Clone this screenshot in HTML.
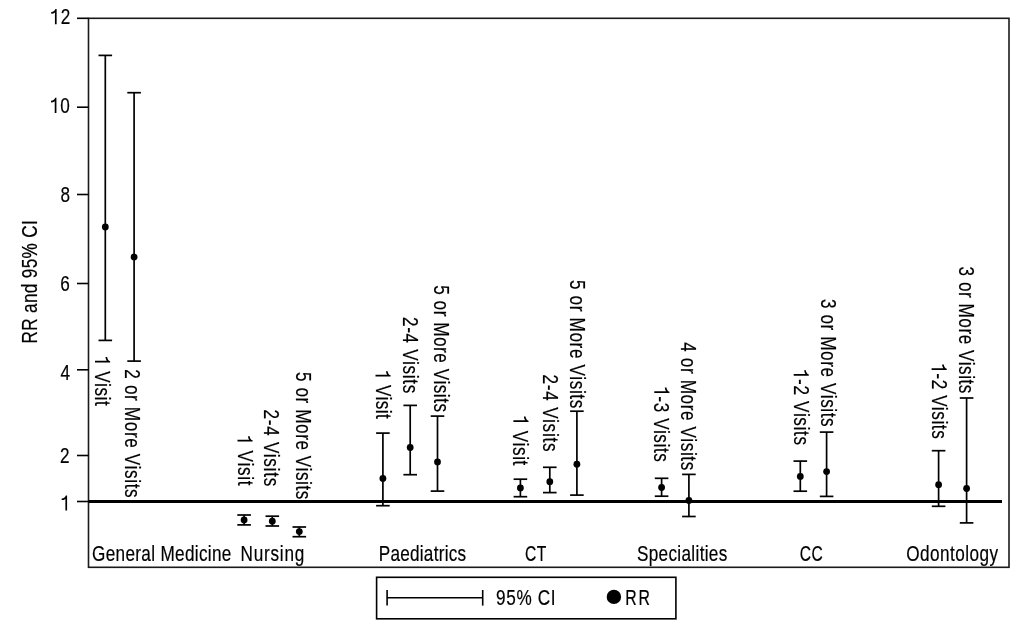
<!DOCTYPE html>
<html><head><meta charset="utf-8"><style>
html,body{margin:0;padding:0;background:#fff;width:1024px;height:633px;overflow:hidden}
svg{display:block;will-change:transform}
text{font-family:"Liberation Sans",sans-serif;fill:#000;stroke:#000;stroke-width:0.2px}
.g1{fill:#000;stroke:#000;stroke-width:0.2px}
</style></head><body>
<svg width="1024" height="633" viewBox="0 0 1024 633">
<rect width="1024" height="633" fill="#fff"/>
<rect x="88.5" y="18.3" width="920.5" height="549.0" fill="none" stroke="#1a1a1a" stroke-width="1.6"/>
<line x1="77.00" y1="18.30" x2="88.50" y2="18.30" stroke="#000" stroke-width="1.6"/>
<line x1="77.00" y1="107.20" x2="88.50" y2="107.20" stroke="#000" stroke-width="1.6"/>
<line x1="77.00" y1="194.50" x2="88.50" y2="194.50" stroke="#000" stroke-width="1.6"/>
<line x1="77.00" y1="283.50" x2="88.50" y2="283.50" stroke="#000" stroke-width="1.6"/>
<line x1="77.00" y1="369.80" x2="88.50" y2="369.80" stroke="#000" stroke-width="1.6"/>
<line x1="77.00" y1="455.50" x2="88.50" y2="455.50" stroke="#000" stroke-width="1.6"/>
<line x1="77.00" y1="501.50" x2="88.50" y2="501.50" stroke="#000" stroke-width="1.6"/>
<path transform="translate(49.93,24.20) scale(0.78,1) scale(0.010742,-0.010742)" d="M597 0L800 0L800 1409L650 1409C610 1260 440 1150 156 1134L156 976C330 980 480 1020 597 1090Z" class="g1"/>
<text transform="translate(49.93,24.20) scale(0.78,1)" font-size="22.0" letter-spacing="1.553"> 2</text>
<path transform="translate(49.73,112.90) scale(0.78,1) scale(0.010742,-0.010742)" d="M597 0L800 0L800 1409L650 1409C610 1260 440 1150 156 1134L156 976C330 980 480 1020 597 1090Z" class="g1"/>
<text transform="translate(49.73,112.90) scale(0.78,1)" font-size="22.0" letter-spacing="1.333"> 0</text>
<text transform="translate(60.41,201.80) scale(0.78,1)" font-size="22.0" letter-spacing="0.686">8</text>
<text transform="translate(60.24,291.00) scale(0.78,1)" font-size="22.0" letter-spacing="1.162">6</text>
<text transform="translate(60.56,379.90) scale(0.78,1)" font-size="22.0" letter-spacing="0.062">4</text>
<text transform="translate(59.94,463.40) scale(0.78,1)" font-size="22.0" letter-spacing="1.162">2</text>
<path transform="translate(60.39,510.60) scale(0.78,1) scale(0.010742,-0.010742)" d="M597 0L800 0L800 1409L650 1409C610 1260 440 1150 156 1134L156 976C330 980 480 1020 597 1090Z" class="g1"/>
<text transform="translate(60.39,510.60) scale(0.78,1)" font-size="22.0" letter-spacing="0.005"> </text>
<line x1="88.50" y1="501.50" x2="1002.00" y2="501.50" stroke="#000" stroke-width="3.0"/>
<text transform="translate(36.80,343.57) rotate(-90) scale(0.78,1)" font-size="22.0" letter-spacing="0.444">RR and 95% CI</text>
<line x1="105.30" y1="55.40" x2="105.30" y2="340.40" stroke="#000" stroke-width="1.7"/>
<line x1="98.50" y1="55.40" x2="112.10" y2="55.40" stroke="#000" stroke-width="1.7"/>
<line x1="98.50" y1="340.40" x2="112.10" y2="340.40" stroke="#000" stroke-width="1.7"/>
<circle cx="105.3" cy="227.0" r="3.4" fill="#000"/>
<line x1="134.10" y1="92.70" x2="134.10" y2="361.10" stroke="#000" stroke-width="1.7"/>
<line x1="127.30" y1="92.70" x2="140.90" y2="92.70" stroke="#000" stroke-width="1.7"/>
<line x1="127.30" y1="361.10" x2="140.90" y2="361.10" stroke="#000" stroke-width="1.7"/>
<circle cx="134.1" cy="256.9" r="3.4" fill="#000"/>
<line x1="244.10" y1="515.00" x2="244.10" y2="524.90" stroke="#000" stroke-width="1.7"/>
<line x1="237.30" y1="515.00" x2="250.90" y2="515.00" stroke="#000" stroke-width="1.7"/>
<line x1="237.30" y1="524.90" x2="250.90" y2="524.90" stroke="#000" stroke-width="1.7"/>
<circle cx="244.1" cy="519.9" r="3.4" fill="#000"/>
<line x1="272.30" y1="516.20" x2="272.30" y2="526.00" stroke="#000" stroke-width="1.7"/>
<line x1="265.50" y1="516.20" x2="279.10" y2="516.20" stroke="#000" stroke-width="1.7"/>
<line x1="265.50" y1="526.00" x2="279.10" y2="526.00" stroke="#000" stroke-width="1.7"/>
<circle cx="272.3" cy="521.2" r="3.4" fill="#000"/>
<line x1="299.30" y1="527.00" x2="299.30" y2="536.70" stroke="#000" stroke-width="1.7"/>
<line x1="292.50" y1="527.00" x2="306.10" y2="527.00" stroke="#000" stroke-width="1.7"/>
<line x1="292.50" y1="536.70" x2="306.10" y2="536.70" stroke="#000" stroke-width="1.7"/>
<circle cx="299.3" cy="531.6" r="3.4" fill="#000"/>
<line x1="382.90" y1="433.10" x2="382.90" y2="505.70" stroke="#000" stroke-width="1.7"/>
<line x1="376.10" y1="433.10" x2="389.70" y2="433.10" stroke="#000" stroke-width="1.7"/>
<line x1="376.10" y1="505.70" x2="389.70" y2="505.70" stroke="#000" stroke-width="1.7"/>
<circle cx="382.9" cy="478.4" r="3.4" fill="#000"/>
<line x1="410.20" y1="405.40" x2="410.20" y2="474.70" stroke="#000" stroke-width="1.7"/>
<line x1="403.40" y1="405.40" x2="417.00" y2="405.40" stroke="#000" stroke-width="1.7"/>
<line x1="403.40" y1="474.70" x2="417.00" y2="474.70" stroke="#000" stroke-width="1.7"/>
<circle cx="410.2" cy="447.5" r="3.4" fill="#000"/>
<line x1="437.50" y1="416.10" x2="437.50" y2="491.10" stroke="#000" stroke-width="1.7"/>
<line x1="430.70" y1="416.10" x2="444.30" y2="416.10" stroke="#000" stroke-width="1.7"/>
<line x1="430.70" y1="491.10" x2="444.30" y2="491.10" stroke="#000" stroke-width="1.7"/>
<circle cx="437.5" cy="461.9" r="3.4" fill="#000"/>
<line x1="520.40" y1="479.20" x2="520.40" y2="496.70" stroke="#000" stroke-width="1.7"/>
<line x1="513.60" y1="479.20" x2="527.20" y2="479.20" stroke="#000" stroke-width="1.7"/>
<line x1="513.60" y1="496.70" x2="527.20" y2="496.70" stroke="#000" stroke-width="1.7"/>
<circle cx="520.4" cy="487.9" r="3.4" fill="#000"/>
<line x1="549.80" y1="467.30" x2="549.80" y2="492.60" stroke="#000" stroke-width="1.7"/>
<line x1="543.00" y1="467.30" x2="556.60" y2="467.30" stroke="#000" stroke-width="1.7"/>
<line x1="543.00" y1="492.60" x2="556.60" y2="492.60" stroke="#000" stroke-width="1.7"/>
<circle cx="549.8" cy="481.7" r="3.4" fill="#000"/>
<line x1="576.90" y1="411.20" x2="576.90" y2="495.10" stroke="#000" stroke-width="1.7"/>
<line x1="570.10" y1="411.20" x2="583.70" y2="411.20" stroke="#000" stroke-width="1.7"/>
<line x1="570.10" y1="495.10" x2="583.70" y2="495.10" stroke="#000" stroke-width="1.7"/>
<circle cx="576.9" cy="464.2" r="3.4" fill="#000"/>
<line x1="661.60" y1="478.30" x2="661.60" y2="496.20" stroke="#000" stroke-width="1.7"/>
<line x1="654.80" y1="478.30" x2="668.40" y2="478.30" stroke="#000" stroke-width="1.7"/>
<line x1="654.80" y1="496.20" x2="668.40" y2="496.20" stroke="#000" stroke-width="1.7"/>
<circle cx="661.6" cy="487.5" r="3.4" fill="#000"/>
<line x1="688.90" y1="474.40" x2="688.90" y2="516.50" stroke="#000" stroke-width="1.7"/>
<line x1="682.10" y1="474.40" x2="695.70" y2="474.40" stroke="#000" stroke-width="1.7"/>
<line x1="682.10" y1="516.50" x2="695.70" y2="516.50" stroke="#000" stroke-width="1.7"/>
<circle cx="688.9" cy="500.4" r="3.4" fill="#000"/>
<line x1="800.30" y1="461.10" x2="800.30" y2="491.20" stroke="#000" stroke-width="1.7"/>
<line x1="793.50" y1="461.10" x2="807.10" y2="461.10" stroke="#000" stroke-width="1.7"/>
<line x1="793.50" y1="491.20" x2="807.10" y2="491.20" stroke="#000" stroke-width="1.7"/>
<circle cx="800.3" cy="476.4" r="3.4" fill="#000"/>
<line x1="826.60" y1="432.10" x2="826.60" y2="496.40" stroke="#000" stroke-width="1.7"/>
<line x1="819.80" y1="432.10" x2="833.40" y2="432.10" stroke="#000" stroke-width="1.7"/>
<line x1="819.80" y1="496.40" x2="833.40" y2="496.40" stroke="#000" stroke-width="1.7"/>
<circle cx="826.6" cy="471.6" r="3.4" fill="#000"/>
<line x1="938.60" y1="450.70" x2="938.60" y2="506.30" stroke="#000" stroke-width="1.7"/>
<line x1="931.80" y1="450.70" x2="945.40" y2="450.70" stroke="#000" stroke-width="1.7"/>
<line x1="931.80" y1="506.30" x2="945.40" y2="506.30" stroke="#000" stroke-width="1.7"/>
<circle cx="938.6" cy="484.7" r="3.4" fill="#000"/>
<line x1="966.60" y1="398.00" x2="966.60" y2="522.90" stroke="#000" stroke-width="1.7"/>
<line x1="959.80" y1="398.00" x2="973.40" y2="398.00" stroke="#000" stroke-width="1.7"/>
<line x1="959.80" y1="522.90" x2="973.40" y2="522.90" stroke="#000" stroke-width="1.7"/>
<circle cx="966.6" cy="488.5" r="3.4" fill="#000"/>
<path transform="translate(95.00,355.73) rotate(90) scale(0.78,1) scale(0.010742,-0.010742)" d="M597 0L800 0L800 1409L650 1409C610 1260 440 1150 156 1134L156 976C330 980 480 1020 597 1090Z" class="g1"/>
<text transform="translate(95.00,355.73) rotate(90) scale(0.78,1)" font-size="22.0" letter-spacing="0.778">  Visit</text>
<text transform="translate(125.40,369.34) rotate(90) scale(0.78,1)" font-size="22.0" letter-spacing="0.806">2 or More Visits</text>
<path transform="translate(237.50,434.83) rotate(90) scale(0.78,1) scale(0.010742,-0.010742)" d="M597 0L800 0L800 1409L650 1409C610 1260 440 1150 156 1134L156 976C330 980 480 1020 597 1090Z" class="g1"/>
<text transform="translate(237.50,434.83) rotate(90) scale(0.78,1)" font-size="22.0" letter-spacing="0.928">  Visit</text>
<text transform="translate(264.10,409.44) rotate(90) scale(0.78,1)" font-size="22.0" letter-spacing="0.934">2-4 Visits</text>
<text transform="translate(295.50,372.01) rotate(90) scale(0.78,1)" font-size="22.0" letter-spacing="0.731">5 or More Visits</text>
<path transform="translate(375.50,369.83) rotate(90) scale(0.78,1) scale(0.010742,-0.010742)" d="M597 0L800 0L800 1409L650 1409C610 1260 440 1150 156 1134L156 976C330 980 480 1020 597 1090Z" class="g1"/>
<text transform="translate(375.50,369.83) rotate(90) scale(0.78,1)" font-size="22.0" letter-spacing="0.522">  Visit</text>
<text transform="translate(402.70,317.04) rotate(90) scale(0.78,1)" font-size="22.0" letter-spacing="0.849">2-4 Visits</text>
<text transform="translate(433.50,285.21) rotate(90) scale(0.78,1)" font-size="22.0" letter-spacing="0.688">5 or More Visits</text>
<path transform="translate(513.40,415.23) rotate(90) scale(0.78,1) scale(0.010742,-0.010742)" d="M597 0L800 0L800 1409L650 1409C610 1260 440 1150 156 1134L156 976C330 980 480 1020 597 1090Z" class="g1"/>
<text transform="translate(513.40,415.23) rotate(90) scale(0.78,1)" font-size="22.0" letter-spacing="0.799">  Visit</text>
<text transform="translate(542.70,374.54) rotate(90) scale(0.78,1)" font-size="22.0" letter-spacing="0.977">2-4 Visits</text>
<text transform="translate(569.90,280.01) rotate(90) scale(0.78,1)" font-size="22.0" letter-spacing="0.808">5 or More Visits</text>
<path transform="translate(654.30,386.23) rotate(90) scale(0.78,1) scale(0.010742,-0.010742)" d="M597 0L800 0L800 1409L650 1409C610 1260 440 1150 156 1134L156 976C330 980 480 1020 597 1090Z" class="g1"/>
<text transform="translate(654.30,386.23) rotate(90) scale(0.78,1)" font-size="22.0" letter-spacing="0.766"> -3 Visits</text>
<text transform="translate(681.40,342.26) rotate(90) scale(0.78,1)" font-size="22.0" letter-spacing="0.787">4 or More Visits</text>
<path transform="translate(793.70,368.93) rotate(90) scale(0.78,1) scale(0.010742,-0.010742)" d="M597 0L800 0L800 1409L650 1409C610 1260 440 1150 156 1134L156 976C330 980 480 1020 597 1090Z" class="g1"/>
<text transform="translate(793.70,368.93) rotate(90) scale(0.78,1)" font-size="22.0" letter-spacing="0.837"> -2 Visits</text>
<text transform="translate(821.10,298.91) rotate(90) scale(0.78,1)" font-size="22.0" letter-spacing="0.765">3 or More Visits</text>
<path transform="translate(931.60,363.23) rotate(90) scale(0.78,1) scale(0.010742,-0.010742)" d="M597 0L800 0L800 1409L650 1409C610 1260 440 1150 156 1134L156 976C330 980 480 1020 597 1090Z" class="g1"/>
<text transform="translate(931.60,363.23) rotate(90) scale(0.78,1)" font-size="22.0" letter-spacing="0.751"> -2 Visits</text>
<text transform="translate(958.90,266.51) rotate(90) scale(0.78,1)" font-size="22.0" letter-spacing="0.688">3 or More Visits</text>
<text transform="translate(92.04,561.00) scale(0.78,1)" font-size="22.0" letter-spacing="0.417">General Medicine</text>
<text transform="translate(240.53,561.00) scale(0.78,1)" font-size="22.0" letter-spacing="0.998">Nursing</text>
<text transform="translate(378.73,561.00) scale(0.78,1)" font-size="22.0" letter-spacing="0.323">Paediatrics</text>
<text transform="translate(524.92,561.00) scale(0.71,1)" font-size="22.0" letter-spacing="0.872">CT</text>
<text transform="translate(636.94,561.00) scale(0.78,1)" font-size="22.0" letter-spacing="0.421">Specialities</text>
<text transform="translate(799.72,561.00) scale(0.71,1)" font-size="22.0" letter-spacing="0.582">CC</text>
<text transform="translate(906.14,561.00) scale(0.78,1)" font-size="22.0" letter-spacing="0.594">Odontology</text>
<rect x="376.6" y="577.3" width="299.3" height="41.5" fill="none" stroke="#000" stroke-width="1.6"/>
<line x1="387.10" y1="597.80" x2="482.70" y2="597.80" stroke="#000" stroke-width="1.6"/>
<line x1="387.10" y1="590.00" x2="387.10" y2="605.60" stroke="#000" stroke-width="1.6"/>
<line x1="482.70" y1="590.00" x2="482.70" y2="605.60" stroke="#000" stroke-width="1.6"/>
<text transform="translate(496.04,605.20) scale(0.78,1)" font-size="22.0" letter-spacing="0.825">95% CI</text>
<circle cx="613.9" cy="596.9" r="7.2" fill="#000"/>
<text transform="translate(625.33,605.20) scale(0.72,1)" font-size="22.0" letter-spacing="2.430">RR</text>
</svg>
</body></html>
